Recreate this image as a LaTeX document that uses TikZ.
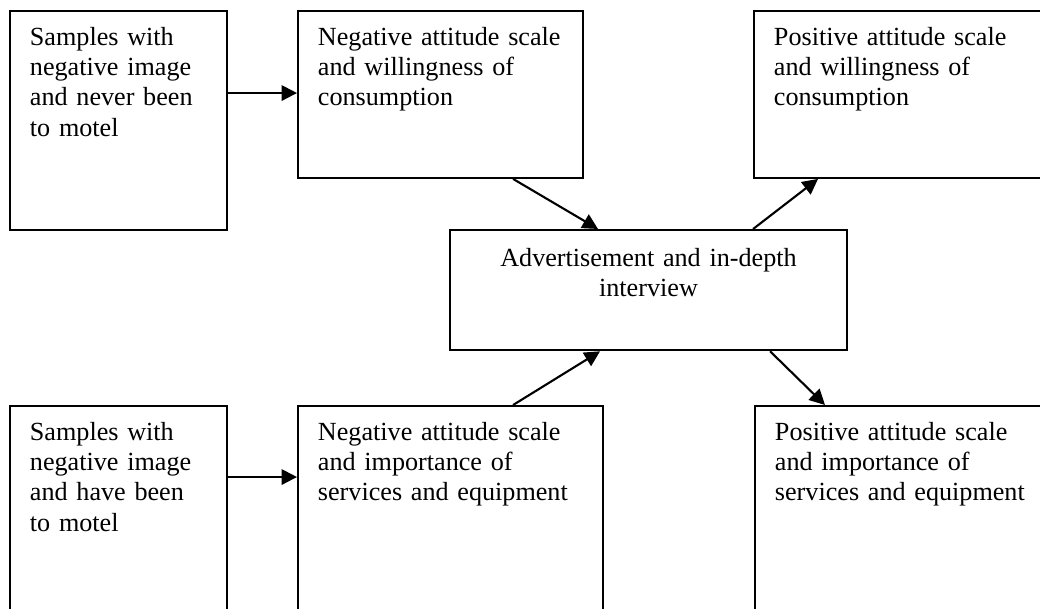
\documentclass[tikz,border=0pt]{standalone}
\usepackage{fontspec}
\setmainfont{Liberation Serif}
\usetikzlibrary{arrows.meta}
\tikzset{
  panel/.style={draw, line width=1.35pt, anchor=north west, align=left, inner xsep=0.5cm, inner ysep=0.4cm, text height=13pt, font=\fontsize{18.6}{21.6}\selectfont},
  hub/.style={panel, align=center, inner ysep=0.45cm},
  flow/.style={-{Triangle[length=11pt,width=11pt]}, line width=1.5pt}
}

\begin{document}
\begin{tikzpicture}[x=0.025cm,y=-0.025cm]
  \useasboundingbox (0,0) rectangle (1040,608);
  \clip (0,0) rectangle (1040,608);
  \fill[white] (0,0) rectangle (1040,608);

  % upper row
  \node[panel, text width=4.425cm, text depth=120pt] (sampnever) at (9,10) {Samples with\\negative image\\and never been\\to motel};
  \node[panel, text width=6.125cm, text depth=83pt] (negwill) at (297,10) {Negative attitude scale\\and willingness of\\consumption};
  \node[panel, text width=7cm, text depth=83pt] (poswill) at (753,10) {Positive attitude scale\\and willingness of\\consumption};

  % middle
  \node[hub, text width=8.925cm, text depth=47pt] (advert) at (449,229) {Advertisement and in-depth\\interview};

  % lower row
  \node[panel, text width=4.425cm, text depth=117pt] (samphave) at (9,405) {Samples with\\negative image\\and have been\\to motel};
  \node[panel, text width=6.625cm, text depth=117pt] (negimp) at (297,405) {Negative attitude scale\\and importance of\\services and equipment};
  \node[panel, text width=7cm, text depth=117pt] (posimp) at (754,405) {Positive attitude scale\\and importance of\\services and equipment};

  \draw[flow] ([yshift=-2.075cm]sampnever.north east) -- ([yshift=-2.075cm]negwill.north west);
  \draw[flow] ([yshift=-1.8cm]samphave.north east) -- ([yshift=-1.8cm]negimp.north west);
  \draw[flow] ([xshift=5.4cm]negwill.south west) -- ([xshift=3.725cm]advert.north west);
  \draw[flow] ([xshift=7.6cm]advert.north west) -- ([xshift=1.625cm]poswill.south west);
  \draw[flow] ([xshift=5.4cm]negimp.north west) -- ([xshift=3.775cm]advert.south west);
  \draw[flow] ([xshift=8.025cm]advert.south west) -- ([xshift=1.775cm]posimp.north west);
\end{tikzpicture}
\end{document}
